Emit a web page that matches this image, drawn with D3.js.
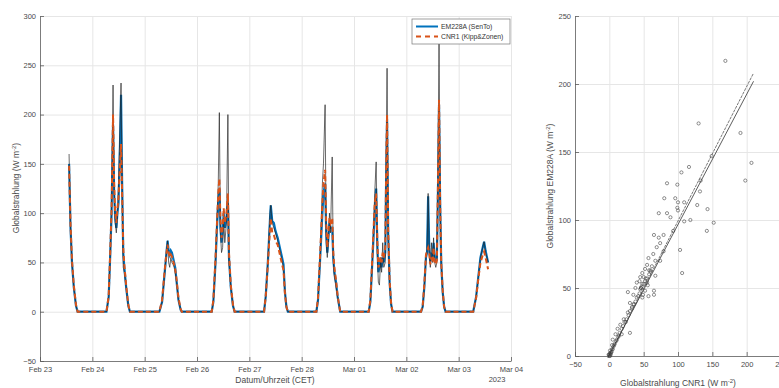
<!DOCTYPE html>
<html>
<head>
<meta charset="utf-8">
<script src="https://cdn.jsdelivr.net/npm/d3@7"></script>
<style>
  body { margin: 0; background: #fff; }
  svg { font-family: "Liberation Sans", Arial, sans-serif; }
  .grid line { stroke: #e6e6e6; stroke-width: 1; }
  .grid path { display: none; }
  .axis path, .axis line { stroke: #5a5a5a; stroke-width: 0.8; }
  .axis text { fill: #4a4a4a; font-size: 7.5px; }
  .lbl { fill: #4a4a4a; font-size: 8.5px; }
</style>
</head>
<body>
<div id="chart"></div>
<script>
// time series (CET), EM228A (SenTo), CNR1 (Kipp&Zonen) and the EM228A high-res trace
const times = [
  "2023-02-23 13:20","2023-02-23 14:00","2023-02-23 14:40","2023-02-23 15:30","2023-02-23 16:30","2023-02-23 17:15",
  "2023-02-24 06:30","2023-02-24 07:30","2023-02-24 08:10","2023-02-24 08:50","2023-02-24 09:30","2023-02-24 10:00",
  "2023-02-24 10:30","2023-02-24 11:00","2023-02-24 11:30","2023-02-24 12:00","2023-02-24 12:30","2023-02-24 13:10",
  "2023-02-24 13:40","2023-02-24 14:10","2023-02-24 14:40","2023-02-24 15:30","2023-02-24 16:30","2023-02-24 17:15",
  "2023-02-25 06:45","2023-02-25 08:00","2023-02-25 09:00","2023-02-25 10:00","2023-02-25 10:30","2023-02-25 11:00",
  "2023-02-25 11:30","2023-02-25 12:00","2023-02-25 12:30","2023-02-25 13:00","2023-02-25 13:30","2023-02-25 14:00",
  "2023-02-25 14:40","2023-02-25 15:30","2023-02-25 16:30","2023-02-25 17:00",
  "2023-02-26 06:45","2023-02-26 07:30","2023-02-26 08:30","2023-02-26 09:15","2023-02-26 09:45","2023-02-26 10:15",
  "2023-02-26 10:45","2023-02-26 11:15","2023-02-26 11:45","2023-02-26 12:15","2023-02-26 12:45","2023-02-26 13:30",
  "2023-02-26 14:10","2023-02-26 14:40","2023-02-26 15:30","2023-02-26 16:30","2023-02-26 17:15",
  "2023-02-27 06:45","2023-02-27 07:30","2023-02-27 08:30","2023-02-27 09:30","2023-02-27 09:50","2023-02-27 10:30",
  "2023-02-27 11:15","2023-02-27 12:00","2023-02-27 13:00","2023-02-27 14:00","2023-02-27 15:00","2023-02-27 15:40",
  "2023-02-27 16:20","2023-02-27 17:00","2023-02-27 17:40",
  "2023-02-28 06:45","2023-02-28 07:30","2023-02-28 08:30","2023-02-28 09:30","2023-02-28 10:00","2023-02-28 10:45",
  "2023-02-28 11:15","2023-02-28 11:45","2023-02-28 12:15","2023-02-28 12:45","2023-02-28 13:15","2023-02-28 14:00",
  "2023-02-28 14:30","2023-02-28 15:00","2023-02-28 15:45","2023-02-28 16:30","2023-02-28 17:40",
  "2023-03-01 06:45","2023-03-01 07:30","2023-03-01 08:30","2023-03-01 09:30","2023-03-01 10:10","2023-03-01 10:40",
  "2023-03-01 11:10","2023-03-01 11:40","2023-03-01 12:10","2023-03-01 12:40","2023-03-01 13:10","2023-03-01 13:40",
  "2023-03-01 14:20","2023-03-01 14:50","2023-03-01 15:10","2023-03-01 15:40","2023-03-01 16:20","2023-03-01 17:00",
  "2023-03-01 17:40",
  "2023-03-02 06:45","2023-03-02 07:30","2023-03-02 08:15","2023-03-02 09:00","2023-03-02 09:30","2023-03-02 10:00",
  "2023-03-02 10:30","2023-03-02 11:00","2023-03-02 11:30","2023-03-02 12:00","2023-03-02 12:30","2023-03-02 13:00",
  "2023-03-02 13:30","2023-03-02 14:00","2023-03-02 14:30","2023-03-02 15:00","2023-03-02 15:30","2023-03-02 16:00",
  "2023-03-02 16:40","2023-03-02 17:20","2023-03-02 18:00",
  "2023-03-03 06:40","2023-03-03 08:00","2023-03-03 09:00","2023-03-03 10:00","2023-03-03 11:00","2023-03-03 11:40",
  "2023-03-03 12:20","2023-03-03 13:00","2023-03-03 13:30"
];
const em228a = [
  150,85,50,25,6,0,
  0,15,55,100,190,120, 95,85,100,110,150,220, 130,60,45,25,6,0,
  0,10,35,60,72,62, 58,62,60,55,50,45, 30,12,2,0,
  0,10,50,90,110,125, 85,70,80,100,85,95, 110,55,25,6,0,
  0,15,50,95,108,92, 90,82,75,65,55,48, 20,5,0,
  0,12,55,100,120,130, 80,60,75,90,85,85, 55,40,30,15,0,
  0,10,55,100,125,70, 40,45,55,45,55,50, 60,150,195,80,30,8, 0,
  0,5,25,55,60,117, 65,50,60,55,70,55, 50,55,120,210,110,50, 20,5,0,
  0,15,35,55,65,71, 62,55,50
];
const cnr1 = [
  148,88,52,27,7,0,
  0,16,58,105,200,130, 100,90,105,115,140,170, 120,65,48,27,7,0,
  0,12,38,60,68,60, 55,58,56,52,48,43, 32,14,3,0,
  0,12,55,95,120,135, 95,75,85,105,90,100, 120,60,27,7,0,
  0,15,48,85,95,80, 78,72,68,58,48,42, 18,5,0,
  0,14,60,110,130,144, 90,65,80,95,90,95, 60,45,32,16,0,
  0,12,60,110,120,75, 45,48,55,50,60,55, 65,160,200,85,32,9, 0,
  0,6,28,58,62,65, 60,48,55,50,65,50, 48,52,130,215,110,50, 22,5,0,
  0,14,33,50,57,61, 55,48,43
];
const em228aRaw = [
  160,85,50,25,6,0,
  0,15,55,110,230,125, 90,80,95,130,170,232, 125,45,40,25,6,0,
  0,10,35,60,72,50, 45,55,50,48,45,40, 30,12,2,0,
  0,10,50,100,130,202, 80,60,65,95,70,90, 200,50,25,6,0,
  0,15,50,100,108,90, 85,80,72,62,52,45, 20,5,0,
  0,12,55,130,150,210, 70,55,70,100,80,157, 50,35,25,15,0,
  0,10,55,120,152,60, 30,27,50,40,70,45, 50,170,247,75,30,8, 0,
  0,5,25,55,60,120, 60,45,70,50,75,50, 45,50,140,273,110,50, 20,5,0,
  0,15,35,55,65,71, 60,55,50
];
const dayTicks = ["2023-02-23","2023-02-24","2023-02-25","2023-02-26","2023-02-27","2023-02-28","2023-03-01","2023-03-02","2023-03-03","2023-03-04"];
const tsYTicks = [-50, 0, 50, 100, 150, 200, 250, 300];

// scatter: CNR1 (x) vs EM228A (y)
const scatterCnr1 = [
  169,130,191,207,198,149,116,105,84,99,133,132,80,96,100,109,99,100,72,84,89,109,118,143,142,152,128,
  93,79,65,72,103,106,74,69,79,64,57,67,74,55,52,60,48,45,67,40,48,55,38,45,52,65,65,27,35,40,48,57,
  30,33,27,21,16,12,9,30,18,5,4,1,-1,1,0,2,3,5,6,8,10,13,15,18,20,22,25,28,30,33,35,38,42,44,46,50,
  52,55,58,60,62,0,1,2,0,3,4,7,11,14,24,36,46,49,53,56,44,47,50,58
];
const scatterEm228a = [
  217,171,164,142,129,147,139,135,127,126,129,121,116,116,113,113,109,107,105,105,102,99,100,108,92,98,111,
  92,89,89,87,78,61,83,80,77,75,72,70,70,67,64,63,61,58,59,54,53,54,50,49,48,48,45,47,45,43,43,44,
  39,36,32,27,23,20,16,17,16,12,8,4,1,0,1,2,3,5,7,9,11,14,17,20,22,25,27,30,33,35,38,40,44,46,50,53,
  55,57,60,62,66,0,2,1,1,3,5,8,12,15,25,38,50,45,57,52,55,51,58,63
];
const fitX = [-2, 210];
const fitA = [-1.5, 208];
const fitB = [-1, 202];
const scXTicks = [-50, 0, 50, 100, 150, 200, 250];
const scYTicks = [0, 50, 100, 150, 200, 250];

const W = 779, H = 388;
const svg = d3.select('#chart').append('svg').attr('width', W).attr('height', H);

const parseT = d3.timeParse('%Y-%m-%d %H:%M');
const parseD = d3.timeParse('%Y-%m-%d');

// ---------- left: time series ----------
let x = d3.scaleTime().domain([parseD(dayTicks[0]), parseD(dayTicks[dayTicks.length - 1])]).range([40, 511]);
let y = d3.scaleLinear().domain([-50, 300]).range([361, 16]);
let ticksX = dayTicks.map(parseD);

svg.append('g').attr('class', 'grid')
    .attr('transform', 'translate(0,361)')
    .call(d3.axisBottom(x).tickValues(ticksX.slice(1)).tickSize(-345).tickFormat(''));
svg.append('g').attr('class', 'grid')
    .attr('transform', 'translate(40,0)')
    .call(d3.axisLeft(y).tickValues(tsYTicks.slice(1)).tickSize(-471).tickFormat(''));

let fmt = d3.timeFormat('%b %d');
svg.append('g').attr('class', 'axis')
    .attr('transform', 'translate(0,361)')
    .call(d3.axisBottom(x).tickValues(ticksX).tickSizeInner(-4).tickSizeOuter(0).tickPadding(6).tickFormat(fmt));
svg.append('g').attr('class', 'axis')
    .attr('transform', 'translate(40,0)')
    .call(d3.axisLeft(y).tickValues(tsYTicks).tickSizeInner(-4).tickSizeOuter(0).tickPadding(4));

let series = times.map((t, i) => ({ t: parseT(t), em: em228a[i], cn: cnr1[i], raw: em228aRaw[i] }));
let line = key => d3.line().x(d => x(d.t)).y(d => y(d[key]));

let g = svg.append('g');
g.append('path').datum(series).attr('d', line('em'))
    .attr('fill', 'none').attr('stroke', '#0072BD').attr('stroke-width', 2.2);
g.append('path').datum(series).attr('d', line('raw'))
    .attr('fill', 'none').attr('stroke', '#222').attr('stroke-width', 0.8).attr('opacity', 0.85);
g.append('path').datum(series).attr('d', line('cn'))
    .attr('fill', 'none').attr('stroke', '#D95319').attr('stroke-width', 2)
    .attr('stroke-dasharray', '5,3');

svg.append('text').attr('class', 'lbl').attr('x', 275).attr('y', 383).attr('text-anchor', 'middle')
    .text('Datum/Uhrzeit (CET)');
svg.append('text').attr('class', 'lbl').attr('x', 497).attr('y', 382).attr('text-anchor', 'middle')
    .style('font-size', '7.5px').text('2023');

let yl = svg.append('text').attr('class', 'lbl').attr('text-anchor', 'middle')
    .attr('transform', 'translate(19,188) rotate(-90)');
yl.append('tspan').text('Globalstrahlung (W m');
yl.append('tspan').attr('dy', -3).style('font-size', '6px').text('-2');
yl.append('tspan').attr('dy', 3).text(')');

// legend
let leg = svg.append('g');
leg.append('rect').attr('x', 412).attr('y', 19).attr('width', 98).attr('height', 25)
    .attr('fill', '#fff').attr('stroke', '#777').attr('stroke-width', 0.7);
leg.append('line').attr('x1', 416).attr('x2', 438).attr('y1', 26.5).attr('y2', 26.5)
    .attr('stroke', '#0072BD').attr('stroke-width', 2);
leg.append('line').attr('x1', 416).attr('x2', 438).attr('y1', 36.5).attr('y2', 36.5)
    .attr('stroke', '#D95319').attr('stroke-width', 2).attr('stroke-dasharray', '5,4');
leg.append('text').attr('x', 441).attr('y', 29).style('font-size', '6.8px').attr('fill', '#333').text('EM228A (SenTo)');
leg.append('text').attr('x', 441).attr('y', 39).style('font-size', '6.8px').attr('fill', '#333').text('CNR1 (Kipp&Zonen)');

// ---------- right: scatter ----------
let sx = d3.scaleLinear().domain([-50, 250]).range([575, 781]);
let sy = d3.scaleLinear().domain([0, 250]).range([356, 16]);

svg.append('g').attr('class', 'grid')
    .attr('transform', 'translate(0,356)')
    .call(d3.axisBottom(sx).tickValues(scXTicks.slice(1)).tickSize(-340).tickFormat(''));
svg.append('g').attr('class', 'grid')
    .attr('transform', 'translate(575,0)')
    .call(d3.axisLeft(sy).tickValues(scYTicks.slice(1)).tickSize(-206).tickFormat(''));

svg.append('g').attr('class', 'axis')
    .attr('transform', 'translate(0,356)')
    .call(d3.axisBottom(sx).tickValues(scXTicks).tickSizeInner(-4).tickSizeOuter(0).tickPadding(6));
svg.append('g').attr('class', 'axis')
    .attr('transform', 'translate(575,0)')
    .call(d3.axisLeft(sy).tickValues(scYTicks).tickSizeInner(-4).tickSizeOuter(0).tickPadding(4));

let pts = scatterCnr1.map((v, i) => [v, scatterEm228a[i]]);
svg.append('g').selectAll('circle').data(pts).enter().append('circle')
    .attr('cx', d => sx(d[0])).attr('cy', d => sy(d[1])).attr('r', 1.6)
    .attr('fill', 'none').attr('stroke', '#444').attr('stroke-width', 0.6);

svg.append('line').attr('x1', sx(fitX[0])).attr('y1', sy(fitA[0])).attr('x2', sx(fitX[1])).attr('y2', sy(fitA[1]))
    .attr('stroke', '#555').attr('stroke-width', 0.8).attr('stroke-dasharray', '3,1');
svg.append('line').attr('x1', sx(fitX[0])).attr('y1', sy(fitB[0])).attr('x2', sx(fitX[1])).attr('y2', sy(fitB[1]))
    .attr('stroke', '#333').attr('stroke-width', 0.8);

let xl2 = svg.append('text').attr('class', 'lbl').attr('x', 678).attr('y', 386).attr('text-anchor', 'middle');
xl2.append('tspan').text('Globalstrahlung CNR1 (W m');
xl2.append('tspan').attr('dy', -3).style('font-size', '6px').text('-2');
xl2.append('tspan').attr('dy', 3).text(')');

let yl2 = svg.append('text').attr('class', 'lbl').attr('text-anchor', 'middle')
    .attr('transform', 'translate(553,186) rotate(-90)');
yl2.append('tspan').text('Globalstrahlung EM228A (W m');
yl2.append('tspan').attr('dy', -3).style('font-size', '6px').text('-2');
yl2.append('tspan').attr('dy', 3).text(')');
</script>
</body>
</html>
